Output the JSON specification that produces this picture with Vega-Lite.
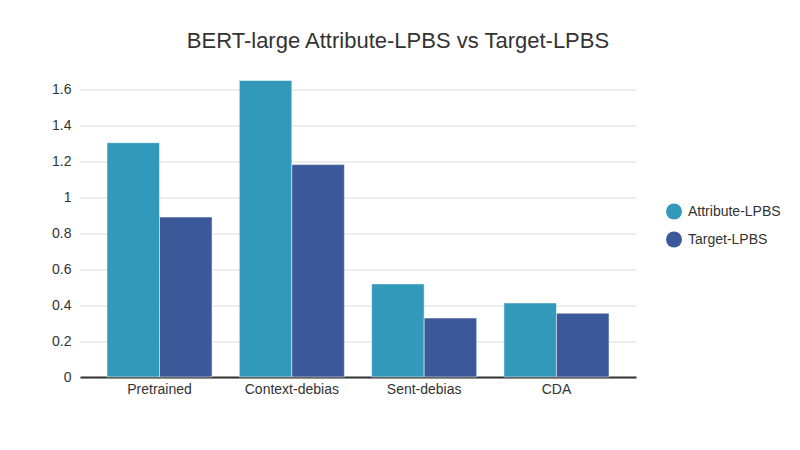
{
  "$schema": "https://vega.github.io/schema/vega-lite/v6.json",
  "autosize": {"type": "none"},
  "width": 556,
  "height": 305.5,
  "padding": {"left": 80, "top": 71.5, "right": 164, "bottom": 73},
  "background": "white",
  "title": {
    "text": "BERT-large Attribute-LPBS vs Target-LPBS",
    "fontSize": 22,
    "font": "Liberation Sans",
    "fontWeight": "normal",
    "color": "#333333",
    "anchor": "middle",
    "dx": 40,
    "offset": 19
  },
  "data": {
    "values": [
      {"model": "Pretrained", "metric": "Attribute-LPBS", "value": 1.304},
      {"model": "Pretrained", "metric": "Target-LPBS", "value": 0.89},
      {"model": "Context-debias", "metric": "Attribute-LPBS", "value": 1.65},
      {"model": "Context-debias", "metric": "Target-LPBS", "value": 1.182},
      {"model": "Sent-debias", "metric": "Attribute-LPBS", "value": 0.518},
      {"model": "Sent-debias", "metric": "Target-LPBS", "value": 0.328},
      {"model": "CDA", "metric": "Attribute-LPBS", "value": 0.412},
      {"model": "CDA", "metric": "Target-LPBS", "value": 0.355}
    ]
  },
  "mark": {"type": "bar", "stroke": "#ffffff", "strokeOpacity": 0.5, "strokeWidth": 1},
  "encoding": {
    "x": {
      "field": "model",
      "type": "nominal",
      "sort": ["Pretrained", "Context-debias", "Sent-debias", "CDA"],
      "scale": {"paddingInner": 0.206, "paddingOuter": 0.204},
      "axis": {
        "title": null,
        "labelAngle": 0,
        "ticks": false,
        "domainColor": "#333333",
        "domainWidth": 2,
        "labelFont": "Liberation Sans",
        "labelFontSize": 14,
        "labelColor": "#333333",
        "labelPadding": 5,
        "grid": false
      }
    },
    "xOffset": {
      "field": "metric",
      "type": "nominal",
      "sort": ["Attribute-LPBS", "Target-LPBS"]
    },
    "y": {
      "field": "value",
      "type": "quantitative",
      "scale": {"domain": [0, 1.7], "nice": false},
      "axis": {
        "title": null,
        "values": [0, 0.2, 0.4, 0.6, 0.8, 1, 1.2, 1.4, 1.6],
        "format": "~g",
        "domain": false,
        "ticks": false,
        "gridColor": "#dddddd",
        "gridWidth": 1,
        "labelFont": "Liberation Sans",
        "labelFontSize": 14,
        "labelColor": "#333333",
        "labelPadding": 9
      }
    },
    "color": {
      "field": "metric",
      "type": "nominal",
      "sort": ["Attribute-LPBS", "Target-LPBS"],
      "scale": {"domain": ["Attribute-LPBS", "Target-LPBS"], "range": ["#3399BB", "#3B5998"]},
      "legend": {
        "title": null,
        "orient": "none",
        "legendX": 586,
        "legendY": 132,
        "symbolType": "circle",
        "symbolSize": 256,
        "symbolStrokeWidth": 0,
        "symbolOpacity": 1,
        "labelFont": "Liberation Sans",
        "labelFontSize": 14,
        "labelColor": "#333333",
        "labelOffset": 6,
        "rowPadding": 12
      }
    }
  },
  "config": {"view": {"stroke": null}}
}
